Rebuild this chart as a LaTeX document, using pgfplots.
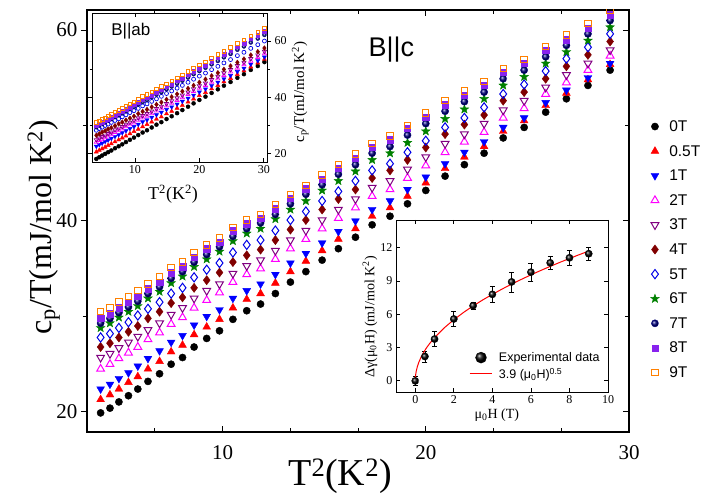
\documentclass[border=0pt]{standalone}
\usepackage{fontspec}
\setmainfont{Liberation Serif}
\newfontfamily\arial{Liberation Sans}
\usepackage{pgfplots}
\usepackage{pgfplotstable}
\pgfplotsset{compat=1.18}
\usetikzlibrary{plotmarks}

\definecolor{c0}{RGB}{0,0,0}
\definecolor{c05}{RGB}{255,0,0}
\definecolor{c1}{RGB}{0,0,255}
\definecolor{c2}{RGB}{255,0,255}
\definecolor{c3}{RGB}{128,0,128}
\definecolor{c4}{RGB}{128,0,0}
\definecolor{c5}{RGB}{0,0,230}
\definecolor{c6}{RGB}{0,128,0}
\definecolor{c7}{RGB}{0,0,128}
\definecolor{c8}{RGB}{136,34,238}
\definecolor{c9}{RGB}{255,128,0}

\pgfdeclareplotmark{fstar}{%
 \pgfpathmoveto{\pgfpointpolar{90}{1.2\pgfplotmarksize}}%
 \pgfpathlineto{\pgfpointpolar{126}{0.5\pgfplotmarksize}}%
 \pgfpathlineto{\pgfpointpolar{162}{1.2\pgfplotmarksize}}%
 \pgfpathlineto{\pgfpointpolar{198}{0.5\pgfplotmarksize}}%
 \pgfpathlineto{\pgfpointpolar{234}{1.2\pgfplotmarksize}}%
 \pgfpathlineto{\pgfpointpolar{270}{0.5\pgfplotmarksize}}%
 \pgfpathlineto{\pgfpointpolar{306}{1.2\pgfplotmarksize}}%
 \pgfpathlineto{\pgfpointpolar{342}{0.5\pgfplotmarksize}}%
 \pgfpathlineto{\pgfpointpolar{18}{1.2\pgfplotmarksize}}%
 \pgfpathlineto{\pgfpointpolar{54}{0.5\pgfplotmarksize}}%
 \pgfpathclose\pgfusepathqfillstroke}

\pgfplotstableread{
x y0 y05 y1 y2 y3 y4 y5 y6 y7 y8 y9
4.00 19.9 21.3 22.4 24.5 25.7 26.8 27.8 28.8 29.3 29.8 30.5
4.46 20.4 21.8 22.9 25.0 26.1 27.2 28.2 29.3 29.8 30.3 30.9
4.90 21.05 22.4 23.5 25.6 26.7 27.8 28.8 29.9 30.4 30.9 31.5
5.37 21.7 23.1 24.1 26.2 27.3 28.4 29.4 30.5 31.0 31.5 32.1
5.83 22.4 23.7 24.8 26.8 27.9 29.0 30.1 31.1 31.6 32.1 32.7
6.33 23.2 24.5 25.6 27.6 28.6 29.8 30.8 31.9 32.4 32.9 33.4
6.90 24.0 25.3 26.4 28.3 29.3 30.5 31.5 32.6 33.1 33.6 34.2
7.47 25.0 26.3 27.3 29.2 30.2 31.4 32.4 33.5 34.0 34.6 35.1
8.03 25.7 27.0 28.0 29.9 30.9 32.0 33.0 34.2 34.7 35.2 35.7
8.60 26.8 28.1 29.1 30.9 31.9 33.0 34.1 35.2 35.7 36.2 36.7
9.22 27.7 28.9 30.0 31.7 32.7 33.8 34.9 36.0 36.5 37.1 37.5
9.85 28.5 29.7 30.7 32.5 33.4 34.6 35.6 36.8 37.3 37.8 38.2
10.51 29.7 30.9 31.9 33.6 34.5 35.7 36.7 37.9 38.4 39.0 39.3
11.19 30.6 31.8 32.7 34.4 35.3 36.4 37.5 38.7 39.2 39.7 40.1
11.87 31.3 32.4 33.4 35.0 35.9 37.0 38.0 39.2 39.8 40.3 40.7
12.60 32.4 33.5 34.4 36.0 36.9 38.0 39.0 40.2 40.7 41.3 41.7
13.34 33.6 34.7 35.6 37.1 38.0 39.1 40.1 41.2 41.8 42.4 42.8
14.10 34.7 35.8 36.6 38.1 39.0 40.1 41.0 42.1 42.8 43.4 43.7
14.90 35.9 36.9 37.7 39.2 40.1 41.2 42.1 43.2 43.8 44.4 44.8
15.70 37.1 38.1 38.9 40.3 41.2 42.3 43.1 44.2 44.9 45.5 45.9
16.54 38.3 39.2 40.0 41.4 42.3 43.3 44.2 45.2 45.9 46.6 47.0
17.36 39.6 40.5 41.2 42.6 43.5 44.5 45.3 46.4 47.1 47.7 48.1
18.24 40.5 41.4 42.1 43.3 44.2 45.3 46.0 47.1 47.8 48.5 48.9
19.10 41.8 42.6 43.3 44.5 45.4 46.4 47.2 48.2 49.0 49.7 50.0
20.00 43.2 44.0 44.6 45.8 46.7 47.7 48.4 49.4 50.2 50.9 51.3
20.95 44.7 45.5 46.0 47.2 48.1 49.1 49.8 50.7 51.5 52.2 52.6
21.90 45.9 46.7 47.2 48.3 49.1 50.1 50.8 51.7 52.5 53.2 53.6
22.87 47.1 47.8 48.3 49.3 50.2 51.1 51.9 52.8 53.5 54.2 54.6
23.81 48.7 49.4 49.8 50.8 51.6 52.6 53.3 54.2 54.9 55.6 56.0
24.84 49.8 50.5 50.8 51.8 52.6 53.5 54.3 55.1 55.8 56.5 56.9
25.90 51.4 52.1 52.4 53.3 54.0 54.9 55.7 56.5 57.2 57.9 58.3
26.92 52.8 53.4 53.7 54.5 55.3 56.2 57.0 57.7 58.4 59.0 59.5
27.98 54.2 54.8 55.0 55.8 56.5 57.4 58.2 58.9 59.6 60.2 60.7
29.07 55.8 56.4 56.5 57.3 57.9 58.8 59.6 60.3 61.0 61.6 62.1
30.10 57.3 57.9 57.9 58.6 59.3 60.2 61.0 61.6 62.3 62.9 63.4
}\maintab

\pgfplotstableread{
x i0 i05 i1 i2 i3 i4 i5 i7 i8 i9
4.00 18.0 20.5 22.5 24.0 24.8 26.4 28.2 29.3 29.9 31.0
4.46 18.6 21.1 23.1 24.6 25.4 26.9 28.8 29.9 30.5 31.6
4.90 19.2 21.6 23.6 25.1 25.9 27.5 29.3 30.4 31.1 32.2
5.37 19.8 22.2 24.2 25.6 26.4 28.0 29.9 31.0 31.6 32.7
5.83 20.4 22.8 24.7 26.2 27.0 28.6 30.4 31.6 32.2 33.3
6.33 21.0 23.4 25.3 26.7 27.5 29.1 31.0 32.2 32.8 33.9
6.90 21.8 24.1 26.0 27.5 28.3 29.8 31.7 32.9 33.6 34.7
7.47 22.5 24.8 26.6 28.1 28.9 30.5 32.3 33.6 34.3 35.4
8.03 23.2 25.5 27.3 28.7 29.5 31.1 33.0 34.3 35.0 36.1
8.60 24.0 26.2 28.0 29.5 30.3 31.8 33.7 35.0 35.7 36.8
9.22 24.8 27.0 28.8 30.2 31.0 32.5 34.5 35.8 36.5 37.6
9.85 25.6 27.8 29.5 30.9 31.7 33.2 35.2 36.5 37.3 38.4
10.51 26.5 28.6 30.3 31.8 32.6 34.1 36.0 37.4 38.2 39.3
11.19 27.4 29.5 31.2 32.6 33.4 34.9 36.9 38.3 39.1 40.2
11.87 28.2 30.3 31.9 33.3 34.1 35.6 37.6 39.0 39.8 40.9
12.60 29.2 31.2 32.8 34.2 35.0 36.5 38.5 40.0 40.8 41.9
13.34 30.2 32.2 33.7 35.1 35.9 37.4 39.4 40.9 41.8 42.9
14.10 31.1 33.0 34.6 35.9 36.7 38.2 40.3 41.8 42.7 43.8
14.90 32.2 34.1 35.6 36.9 37.7 39.2 41.3 42.8 43.7 44.8
15.70 33.2 35.0 36.5 37.9 38.7 40.1 42.2 43.8 44.7 45.8
16.54 34.3 36.1 37.5 38.9 39.7 41.1 43.2 44.8 45.8 46.9
17.36 35.4 37.1 38.5 39.9 40.7 42.1 44.2 45.9 46.8 47.9
18.24 36.6 38.3 39.6 41.0 41.8 43.1 45.3 47.0 48.0 49.1
19.10 37.8 39.4 40.7 42.1 42.9 44.2 46.4 48.2 49.2 50.3
20.00 39.0 40.6 41.8 43.2 44.0 45.3 47.5 49.3 50.4 51.5
20.95 40.2 41.7 42.9 44.2 45.0 46.4 48.6 50.5 51.5 52.6
21.90 41.5 43.0 44.1 45.4 46.2 47.6 49.8 51.7 52.8 53.9
22.87 42.8 44.2 45.3 46.6 47.4 48.7 51.0 52.9 54.1 55.2
23.81 44.1 45.5 46.5 47.8 48.6 49.9 52.2 54.2 55.3 56.4
24.84 45.4 46.7 47.7 49.0 49.8 51.1 53.4 55.4 56.6 57.7
25.90 46.9 48.1 49.1 50.4 51.2 52.4 54.8 56.9 58.0 59.1
26.92 48.2 49.4 50.3 51.6 52.4 53.6 56.0 58.1 59.3 60.4
27.98 49.7 50.8 51.7 52.9 53.7 55.0 57.4 59.5 60.8 61.9
29.07 51.1 52.2 53.0 54.2 55.0 56.2 58.7 60.9 62.1 63.2
30.10 52.5 53.5 54.3 55.5 56.3 57.5 60.0 62.2 63.5 64.6
}\insettab

\pgfplotstableread{
mu dg err
0 0.0 0.4
0.5 2.2 0.5
1 3.77 0.7
2 5.58 0.7
3 6.78 0.3
4 7.8 0.7
5 8.92 0.9
6 9.8 0.8
7 10.64 0.6
8 11.09 0.7
9 11.46 0.6
}\gamtab

\begin{document}
\begin{tikzpicture}
\path[use as bounding box] (-87pt,-62pt) rectangle (622pt,432pt);
% ---------------- main axis ----------------
\begin{axis}[
  at={(0pt,0pt)}, anchor=south west, scale only axis,
  width=542pt, height=422pt,
  xmin=3.33, xmax=30, ymin=17.9, ymax=62.1,
  axis line style={line width=1.1pt},
  xtick={10,20,30}, minor xtick={6.667,13.333,16.667,23.333,26.667},
  ytick={20,40,60}, minor ytick={30,50},
  xtick align=inside, xtick pos=both,
  ytick align=outside, ytick pos=left,
  major tick length=6pt, minor tick length=4pt,
  tick style={line width=1pt, black},
  tick label style={font=\fontsize{21}{21}\selectfont},
  /pgf/number format/assume math mode=true,
  xticklabel style={yshift=-10pt},
  xlabel={T\textsuperscript{2}(K\textsuperscript{2})},
  ylabel={c\textsubscript{p}/T(mJ/mol K\textsuperscript{2})},
  xlabel style={font=\fontsize{38}{38}\selectfont, at={(axis description cs:0.467,-0.104)}, anchor=center},
  ylabel style={font=\fontsize{32}{32}\selectfont, at={(axis description cs:-0.08,0.485)}, anchor=center},
  clip marker paths=true,
  only marks,
  legend cell align=left,
  legend style={draw=none, fill=none, at={(axis description cs:1.034,0.748)}, anchor=north west,
    font=\arial\fontsize{15.5}{16}\selectfont, row sep=8.6pt,
    nodes={inner sep=2pt, text height=11pt, text depth=1pt},
    /tikz/every odd column/.append style={column sep=8pt}},
]
\addplot[c0, mark=*, mark size=3.6pt] table[x=x,y=y0]{\maintab};
\addlegendentry{0T}
\addplot[c05, mark=triangle*, mark size=4.5pt] table[x=x,y=y05]{\maintab};
\addlegendentry{0.5T}
\addplot[c1, mark=triangle*, mark size=4.5pt, mark options={rotate=180}] table[x=x,y=y1]{\maintab};
\addlegendentry{1T}
\addplot[c2, mark=triangle, mark size=4.5pt, mark options={line width=1pt}] table[x=x,y=y2]{\maintab};
\addlegendentry{2T}
\addplot[c3, mark=triangle, mark size=4.5pt, mark options={rotate=180, line width=1pt}] table[x=x,y=y3]{\maintab};
\addlegendentry{3T}
\addplot[c4, mark=diamond*, mark size=4.6pt] table[x=x,y=y4]{\maintab};
\addlegendentry{4T}
\addplot[c5, mark=diamond, mark size=4.6pt, mark options={line width=1pt}] table[x=x,y=y5]{\maintab};
\addlegendentry{5T}
\addplot[c6, mark=fstar, mark size=3.8pt] table[x=x,y=y6]{\maintab};
\addlegendentry{6T}
\addplot[c7, mark=ball, mark size=3.6pt, mark options={ball color=c7}] table[x=x,y=y7]{\maintab};
\addlegendentry{7T}
\addplot[c8, mark=square*, mark size=3.2pt] table[x=x,y=y8]{\maintab};
\addlegendentry{8T}
\addplot[c9, mark=square, mark size=3.2pt, mark options={line width=1pt}] table[x=x,y=y9]{\maintab};
\addlegendentry{9T}
\node[anchor=base west, font=\arial\fontsize{27}{27}\selectfont] at (axis description cs:0.513,0.889) {B||c};
\end{axis}
% right-side inner ticks
\begin{axis}[
  at={(0pt,0pt)}, anchor=south west, scale only axis,
  width=542pt, height=422pt,
  xmin=3.33, xmax=30, ymin=17.9, ymax=62.1,
  axis x line=none, axis y line*=right,
  ytick={20,40,60}, minor ytick={30,50}, yticklabels={},
  ytick align=inside,
  major tick length=6pt, minor tick length=4pt,
  axis line style={line width=1.1pt},
  tick style={line width=1pt, black},
]
\addplot[draw=none] coordinates {(5,30)};
\end{axis}
% ---------------- inset 1 (B||ab) ----------------
\begin{axis}[
  at={(5pt,270pt)}, anchor=south west, scale only axis,
  width=175pt, height=149pt,
  xmin=3.33, xmax=30.5, ymin=16.9, ymax=70,
  axis background/.style={fill=white},
  axis line style={line width=0.9pt},
  xtick={10,20,30}, ytick={20,40,60}, minor ytick={30,50},
  yticklabel pos=right,
  xtick align=inside, ytick align=outside,
  major tick length=4pt, minor tick length=2.5pt,
  tick style={line width=0.8pt, black},
  tick label style={font=\fontsize{12}{12}\selectfont},
  /pgf/number format/assume math mode=true,
  xlabel={T\textsuperscript{2}(K\textsuperscript{2})},
  ylabel={c\textsubscript{p}/T(mJ/mol K\textsuperscript{2})},
  xlabel style={font=\fontsize{18}{18}\selectfont, at={(axis description cs:0.463,-0.215)}, anchor=center},
  ylabel style={font=\fontsize{15}{15}\selectfont, at={(axis description cs:1.19,0.47)}, anchor=center},
  clip marker paths=true,
  only marks,
]
\addplot[c0, mark=*, mark size=2pt] table[x=x,y=i0]{\insettab};
\addplot[c05, mark=triangle*, mark size=2.4pt] table[x=x,y=i05]{\insettab};
\addplot[c1, mark=triangle*, mark size=2.4pt, mark options={rotate=180}] table[x=x,y=i1]{\insettab};
\addplot[c2, mark=triangle, mark size=2.4pt, mark options={line width=0.7pt}] table[x=x,y=i2]{\insettab};
\addplot[c3, mark=triangle, mark size=2.4pt, mark options={rotate=180, line width=0.7pt}] table[x=x,y=i3]{\insettab};
\addplot[c4, mark=diamond*, mark size=2.4pt] table[x=x,y=i4]{\insettab};
\addplot[c5, mark=o, mark size=2pt, mark options={line width=0.7pt}] table[x=x,y=i5]{\insettab};
\addplot[c7, mark=ball, mark size=2pt, mark options={ball color=c7}] table[x=x,y=i7]{\insettab};
\addplot[c8, mark=square*, mark size=1.8pt] table[x=x,y=i8]{\insettab};
\addplot[c9, mark=square, mark size=1.8pt, mark options={line width=0.7pt}] table[x=x,y=i9]{\insettab};
\node[anchor=base west, font=\arial\fontsize{17}{17}\selectfont] at (axis description cs:0.09,0.846) {B||ab};
\end{axis}
% ---------------- inset 2 (Delta gamma) ----------------
\begin{axis}[
  at={(309pt,40pt)}, anchor=south west, scale only axis,
  width=212pt, height=172pt,
  xmin=-1, xmax=10, ymin=-1, ymax=14.5,
  axis background/.style={fill=white},
  axis line style={line width=0.9pt},
  xtick={0,2,4,6,8,10}, ytick={0,3,6,9,12},
  tick align=inside,
  major tick length=4pt,
  tick style={line width=0.8pt, black},
  tick label style={font=\fontsize{12}{12}\selectfont},
  /pgf/number format/assume math mode=true,
  xlabel={μ\textsubscript{0}H (T)},
  ylabel={Δγ(μ\textsubscript{0}H) (mJ/mol K\textsuperscript{2})},
  xlabel style={font=\fontsize{14}{14}\selectfont, at={(axis description cs:0.476,-0.135)}, anchor=center},
  ylabel style={font=\fontsize{14}{14}\selectfont, at={(axis description cs:-0.123,0.436)}, anchor=center},
  legend cell align=left,
  legend style={draw=none, fill=none, at={(axis description cs:0.33,0.255)}, anchor=north west,
    font=\arial\fontsize{12.5}{13}\selectfont, row sep=1pt,
    /tikz/every odd column/.append style={column sep=4pt}},
]
\addplot[black, only marks, mark=ball, mark size=3.6pt, mark options={ball color=black},
  legend image code/.code={\shade[ball color=black] (0.4cm,0cm) circle (5.5pt);},
  error bars/.cd, y dir=both, y explicit,
  error bar style={line width=0.8pt, black},
  error mark options={line width=0.8pt, mark size=2.5pt, black, rotate=90}]
  table[x=mu, y=dg, y error=err]{\gamtab};
\addlegendentry{Experimental data}
\addplot[red, line width=1pt, no marks,
  legend image code/.code={\draw[red, line width=1pt] (0cm,0cm) -- (0.8cm,0cm);}] coordinates {
(0,0) (0.005,0.276) (0.01,0.39) (0.02,0.552) (0.05,0.872) (0.1,1.233) (0.15,1.510)
(0.2,1.744) (0.3,2.136) (0.4,2.467) (0.5,2.758) (0.6,3.021) (0.75,3.377) (1,3.9)
(1.5,4.777) (2,5.515) (2.5,6.166) (3,6.755) (3.5,7.296) (4,7.8) (4.5,8.273)
(5,8.721) (5.5,9.146) (6,9.553) (6.5,9.943) (7,10.318) (7.5,10.681) (8,11.031)
(8.5,11.370) (9,11.7)};
\addlegendentry{3.9 (μ\textsubscript{0}H)\textsuperscript{0.5}}
\end{axis}
\end{tikzpicture}
\end{document}
